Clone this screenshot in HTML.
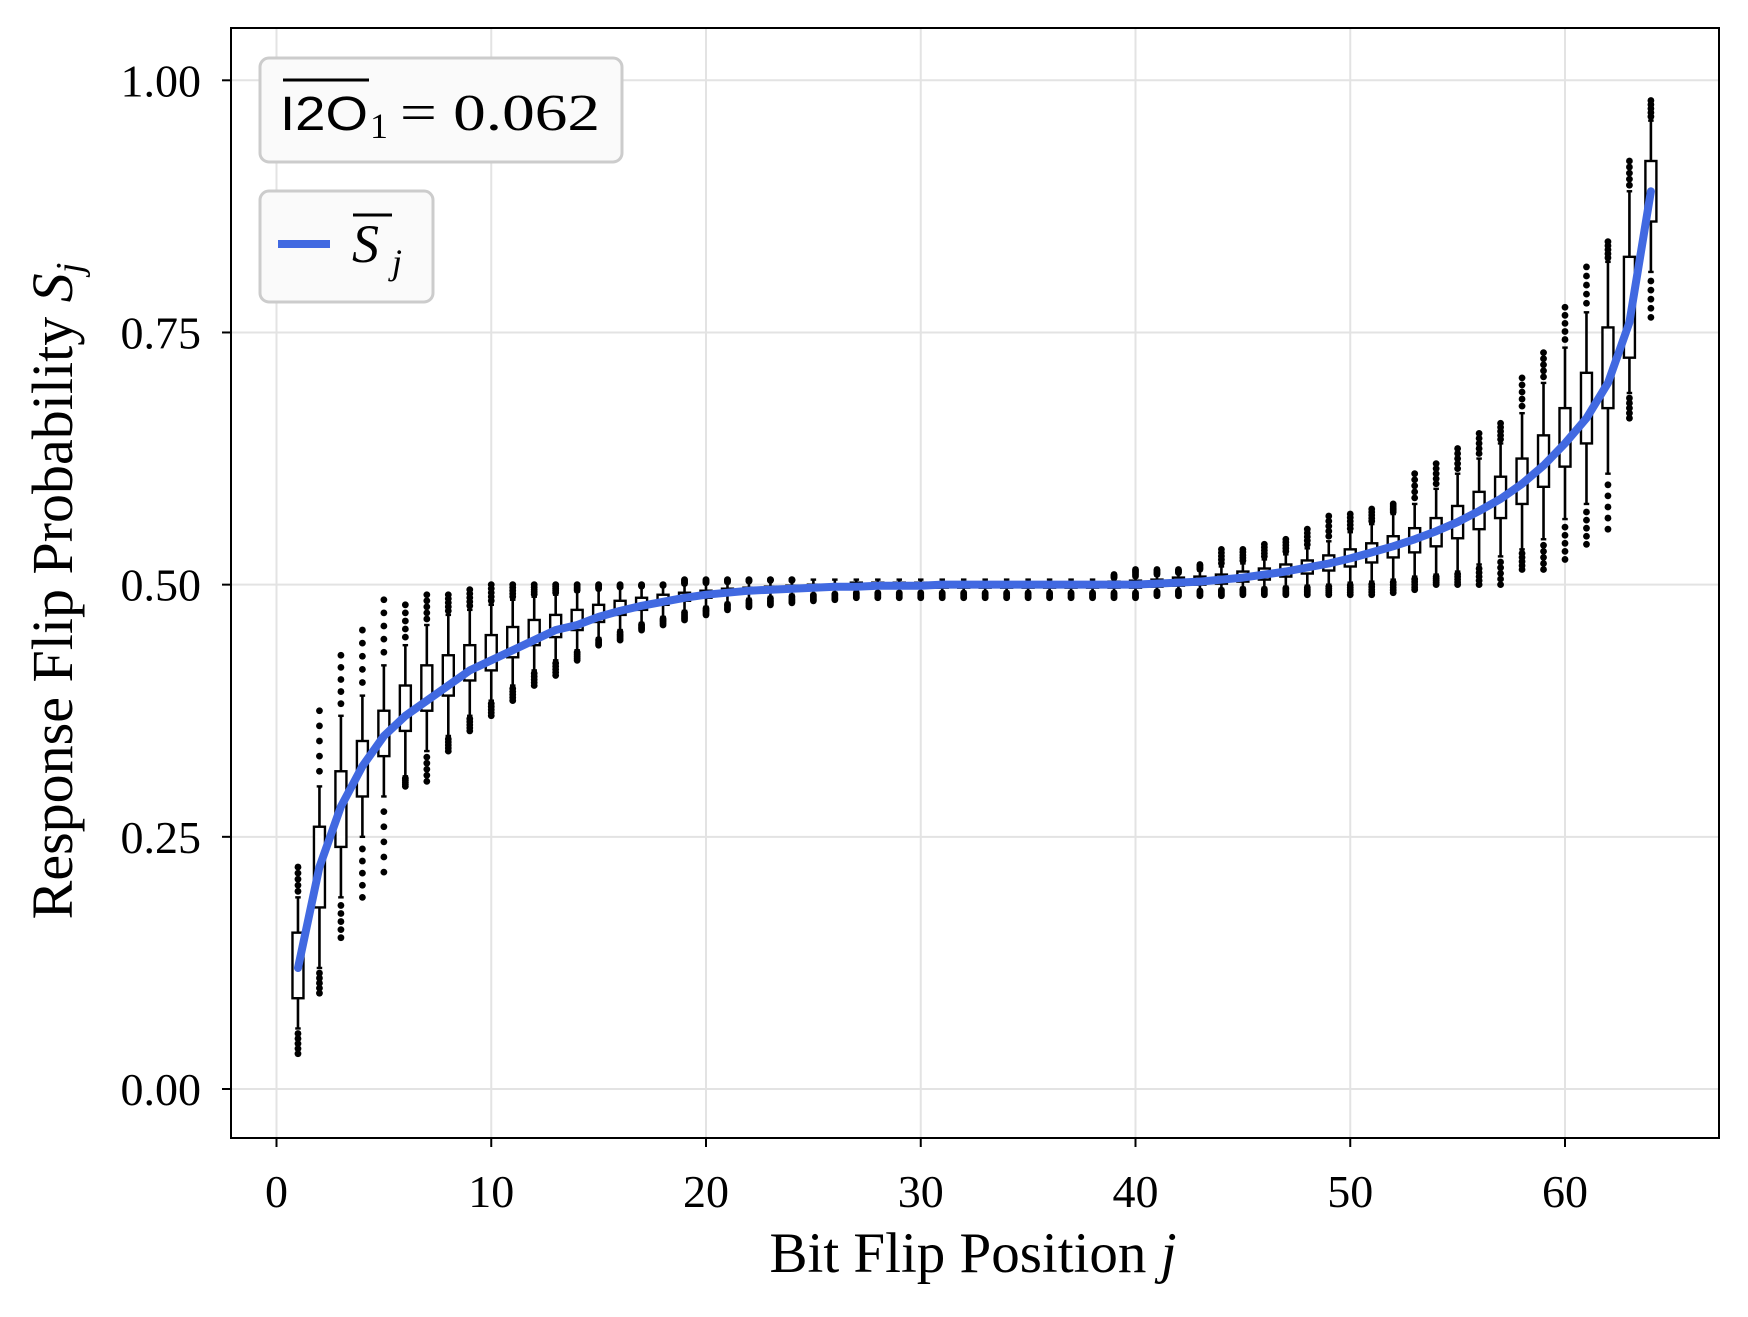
<!DOCTYPE html>
<html><head><meta charset="utf-8"><style>
body{margin:0;background:#fff}
svg{display:block}
text{font-family:"Liberation Serif",serif;fill:#000}
</style></head><body>
<svg id="chart" width="1748" height="1317" viewBox="0 0 1748 1317">
<rect x="0" y="0" width="1748" height="1317" fill="#fff"/>
<g id="grid"></g>
<g id="boxes"></g>
<g id="curve"></g>
<rect x="231" y="28" width="1488" height="1110" fill="none" stroke="#000" stroke-width="2"/>
<g id="ticks"></g>
<text x="973" y="1272" font-size="57" text-anchor="middle">Bit Flip Position <tspan font-style="italic">j</tspan></text>
<text transform="translate(72,591) rotate(-90)" font-size="58" text-anchor="middle">Response Flip Probability <tspan font-style="italic">S</tspan><tspan font-style="italic" font-size="38" dy="10">j</tspan></text>
<g>
<rect x="260" y="58" width="362" height="104" rx="9" fill="#fafafa" stroke="#ccc" stroke-width="3"/>
<line x1="283" y1="80" x2="369" y2="80" stroke="#000" stroke-width="3"/>
<text x="280" y="130" font-size="48" style="font-family:'Liberation Sans',sans-serif" textLength="88" lengthAdjust="spacingAndGlyphs">I2O</text>
<text x="370" y="138" font-size="36">1</text>
<text x="400" y="130" font-size="52" textLength="200" lengthAdjust="spacingAndGlyphs">= 0.062</text>
</g>
<g>
<rect x="260" y="191" width="173" height="111" rx="9" fill="#fafafa" stroke="#ccc" stroke-width="3"/>
<line x1="278" y1="244" x2="330" y2="244" stroke="#4169E1" stroke-width="8"/>
<line x1="353" y1="215" x2="392" y2="215" stroke="#000" stroke-width="3"/>
<text x="352" y="262" font-size="54" font-style="italic">S</text>
<text x="392" y="274" font-size="36" font-style="italic">j</text>
</g>
</svg>
<script>
const positions=[];for(let j=1;j<=64;j++)positions.push(j);
const meanS=[.12,.22,.28,.32,.35,.37,.385,.40,.415,.425,.435,.445,.455,.46,.468,.474,.479,.483,.487,.49,.492,.494,.495,.496,.497,.498,.498,.499,.499,.499,.5,.5,.5,.5,.5,.5,.5,.5,.5,.5,.501,.502,.503,.505,.507,.51,.513,.517,.521,.526,.532,.538,.545,.553,.562,.573,.585,.60,.618,.64,.665,.70,.76,.89];
const q1=[.09,.18,.24,.29,.33,.355,.375,.39,.405,.415,.428,.44,.448,.455,.463,.47,.475,.48,.484,.487,.49,.492,.493,.494,.495,.496,.497,.497,.497,.497,.497,.497,.497,.497,.497,.497,.497,.497,.497,.497,.498,.499,.5,.501,.503,.505,.508,.511,.514,.518,.522,.527,.532,.538,.546,.555,.566,.58,.597,.617,.64,.675,.725,.86];
const q3=[.155,.26,.315,.345,.375,.40,.42,.43,.44,.45,.458,.465,.47,.475,.48,.484,.487,.49,.492,.494,.496,.497,.498,.499,.5,.5,.502,.502,.502,.502,.502,.502,.502,.502,.502,.502,.502,.502,.503,.504,.505,.507,.508,.51,.513,.516,.52,.524,.529,.535,.541,.548,.556,.566,.578,.592,.607,.625,.648,.675,.71,.755,.825,.92];
const whiskLo=[.06,.12,.19,.25,.29,.31,.335,.35,.37,.385,.40,.415,.425,.435,.447,.455,.462,.468,.474,.478,.482,.486,.488,.49,.491,.492,.493,.493,.493,.493,.493,.493,.493,.493,.493,.493,.493,.493,.493,.493,.494,.495,.495,.496,.497,.497,.498,.499,.5,.502,.503,.505,.508,.51,.513,.52,.528,.535,.545,.565,.58,.61,.69,.81];
const whiskHi=[.19,.30,.37,.39,.42,.44,.46,.47,.475,.48,.485,.488,.49,.493,.495,.497,.498,.499,.5,.501,.502,.503,.504,.504,.505,.505,.505,.505,.505,.505,.505,.505,.505,.505,.505,.505,.505,.505,.506,.507,.509,.511,.514,.518,.521,.525,.53,.536,.543,.552,.56,.57,.58,.595,.61,.625,.64,.67,.70,.735,.77,.82,.89,.96];
const flierLo=[.035,.095,.15,.19,.215,.30,.305,.335,.355,.37,.385,.40,.41,.425,.44,.445,.455,.46,.465,.47,.475,.478,.48,.482,.484,.485,.487,.487,.487,.487,.487,.487,.487,.487,.487,.487,.487,.487,.487,.487,.489,.489,.489,.489,.49,.49,.49,.49,.49,.49,.49,.492,.495,.5,.5,.5,.5,.515,.515,.525,.54,.555,.665,.765];
const flierHi=[.22,.375,.43,.455,.485,.48,.49,.49,.495,.5,.5,.5,.5,.5,.5,.5,.5,.5,.505,.505,.505,.505,.505,.505,.505,.505,.505,.505,.505,.505,.505,.505,.505,.505,.505,.505,.505,.505,.51,.515,.515,.515,.52,.535,.535,.54,.545,.555,.568,.57,.575,.58,.61,.62,.635,.65,.66,.705,.73,.775,.815,.84,.92,.98];
const xTicks=[0,10,20,30,40,50,60];
const yTicks=[0,0.25,0.5,0.75,1.0];
const yTickLabels=["0.00","0.25","0.50","0.75","1.00"];

const NS="http://www.w3.org/2000/svg";
const X=v=>276.5+v*21.475;
const Y=v=>1089-v*1008.7;
function mk(tag,attrs,parent){const e=document.createElementNS(NS,tag);for(const k in attrs)e.setAttribute(k,attrs[k]);parent.appendChild(e);return e;}
const grid=document.getElementById('grid'),ticks=document.getElementById('ticks'),boxes=document.getElementById('boxes'),curve=document.getElementById('curve');
xTicks.forEach(t=>{
  const g=mk('line',{x1:X(t),x2:X(t),y1:28,y2:1138,stroke:'#e3e3e3','stroke-width':2},grid);
  
  
  const tk=mk('line',{x1:X(t),x2:X(t),y1:1138,y2:1147,stroke:'#000','stroke-width':2},ticks);
  
  
  const tx=mk('text',{x:X(t),y:1207,'font-size':46,'text-anchor':'middle'},ticks);
  tx.textContent=t;
  
  
});
yTicks.forEach((t,i)=>{
  const g=mk('line',{x1:231,x2:1719,y1:Y(t),y2:Y(t),stroke:'#e3e3e3','stroke-width':2},grid);
  
  
  const tk=mk('line',{x1:222,x2:231,y1:Y(t),y2:Y(t),stroke:'#000','stroke-width':2},ticks);
  
  
  const tx=mk('text',{x:201,y:Y(t)+16,'font-size':46,'text-anchor':'end'},ticks);
  tx.textContent=yTickLabels[i];
  
  
});
positions.forEach((j,i)=>{
  const cx=X(j),w=11;
  const g=mk('g',{},boxes);
  
  
  mk('line',{x1:cx,x2:cx,y1:Y(whiskLo[i]),y2:Y(q1[i]),stroke:'#000','stroke-width':2.6},g);
  mk('line',{x1:cx,x2:cx,y1:Y(q3[i]),y2:Y(whiskHi[i]),stroke:'#000','stroke-width':2.6},g);
  mk('line',{x1:cx-w/4,x2:cx+w/4,y1:Y(whiskLo[i]),y2:Y(whiskLo[i]),stroke:'#000','stroke-width':2.4},g);
  mk('line',{x1:cx-w/4,x2:cx+w/4,y1:Y(whiskHi[i]),y2:Y(whiskHi[i]),stroke:'#000','stroke-width':2.4},g);
  mk('rect',{x:cx-w/2,y:Y(q3[i]),width:w,height:Math.max(1,Y(q1[i])-Y(q3[i])),fill:'#fff',stroke:'#000','stroke-width':2.4},g);
  const n=5;
  for(let k=1;k<=n;k++){
    const lo=whiskLo[i]-(whiskLo[i]-flierLo[i])*k/n;
    const hi=whiskHi[i]+(flierHi[i]-whiskHi[i])*k/n;
    if(flierLo[i]<whiskLo[i]){const d=mk('circle',{cx:cx,cy:Y(lo),r:3.4,fill:'#000'},g);}
    if(flierHi[i]>whiskHi[i]){const d=mk('circle',{cx:cx,cy:Y(hi),r:3.4,fill:'#000'},g);}
  }
});
let dstr='';
positions.forEach((j,i)=>{dstr+=(i?'L':'M')+X(j).toFixed(1)+','+Y(meanS[i]).toFixed(1);});
const p=mk('path',{d:dstr,fill:'none',stroke:'#4169E1','stroke-width':8,'stroke-linejoin':'round','stroke-linecap':'round'},curve);


</script>
</body></html>
